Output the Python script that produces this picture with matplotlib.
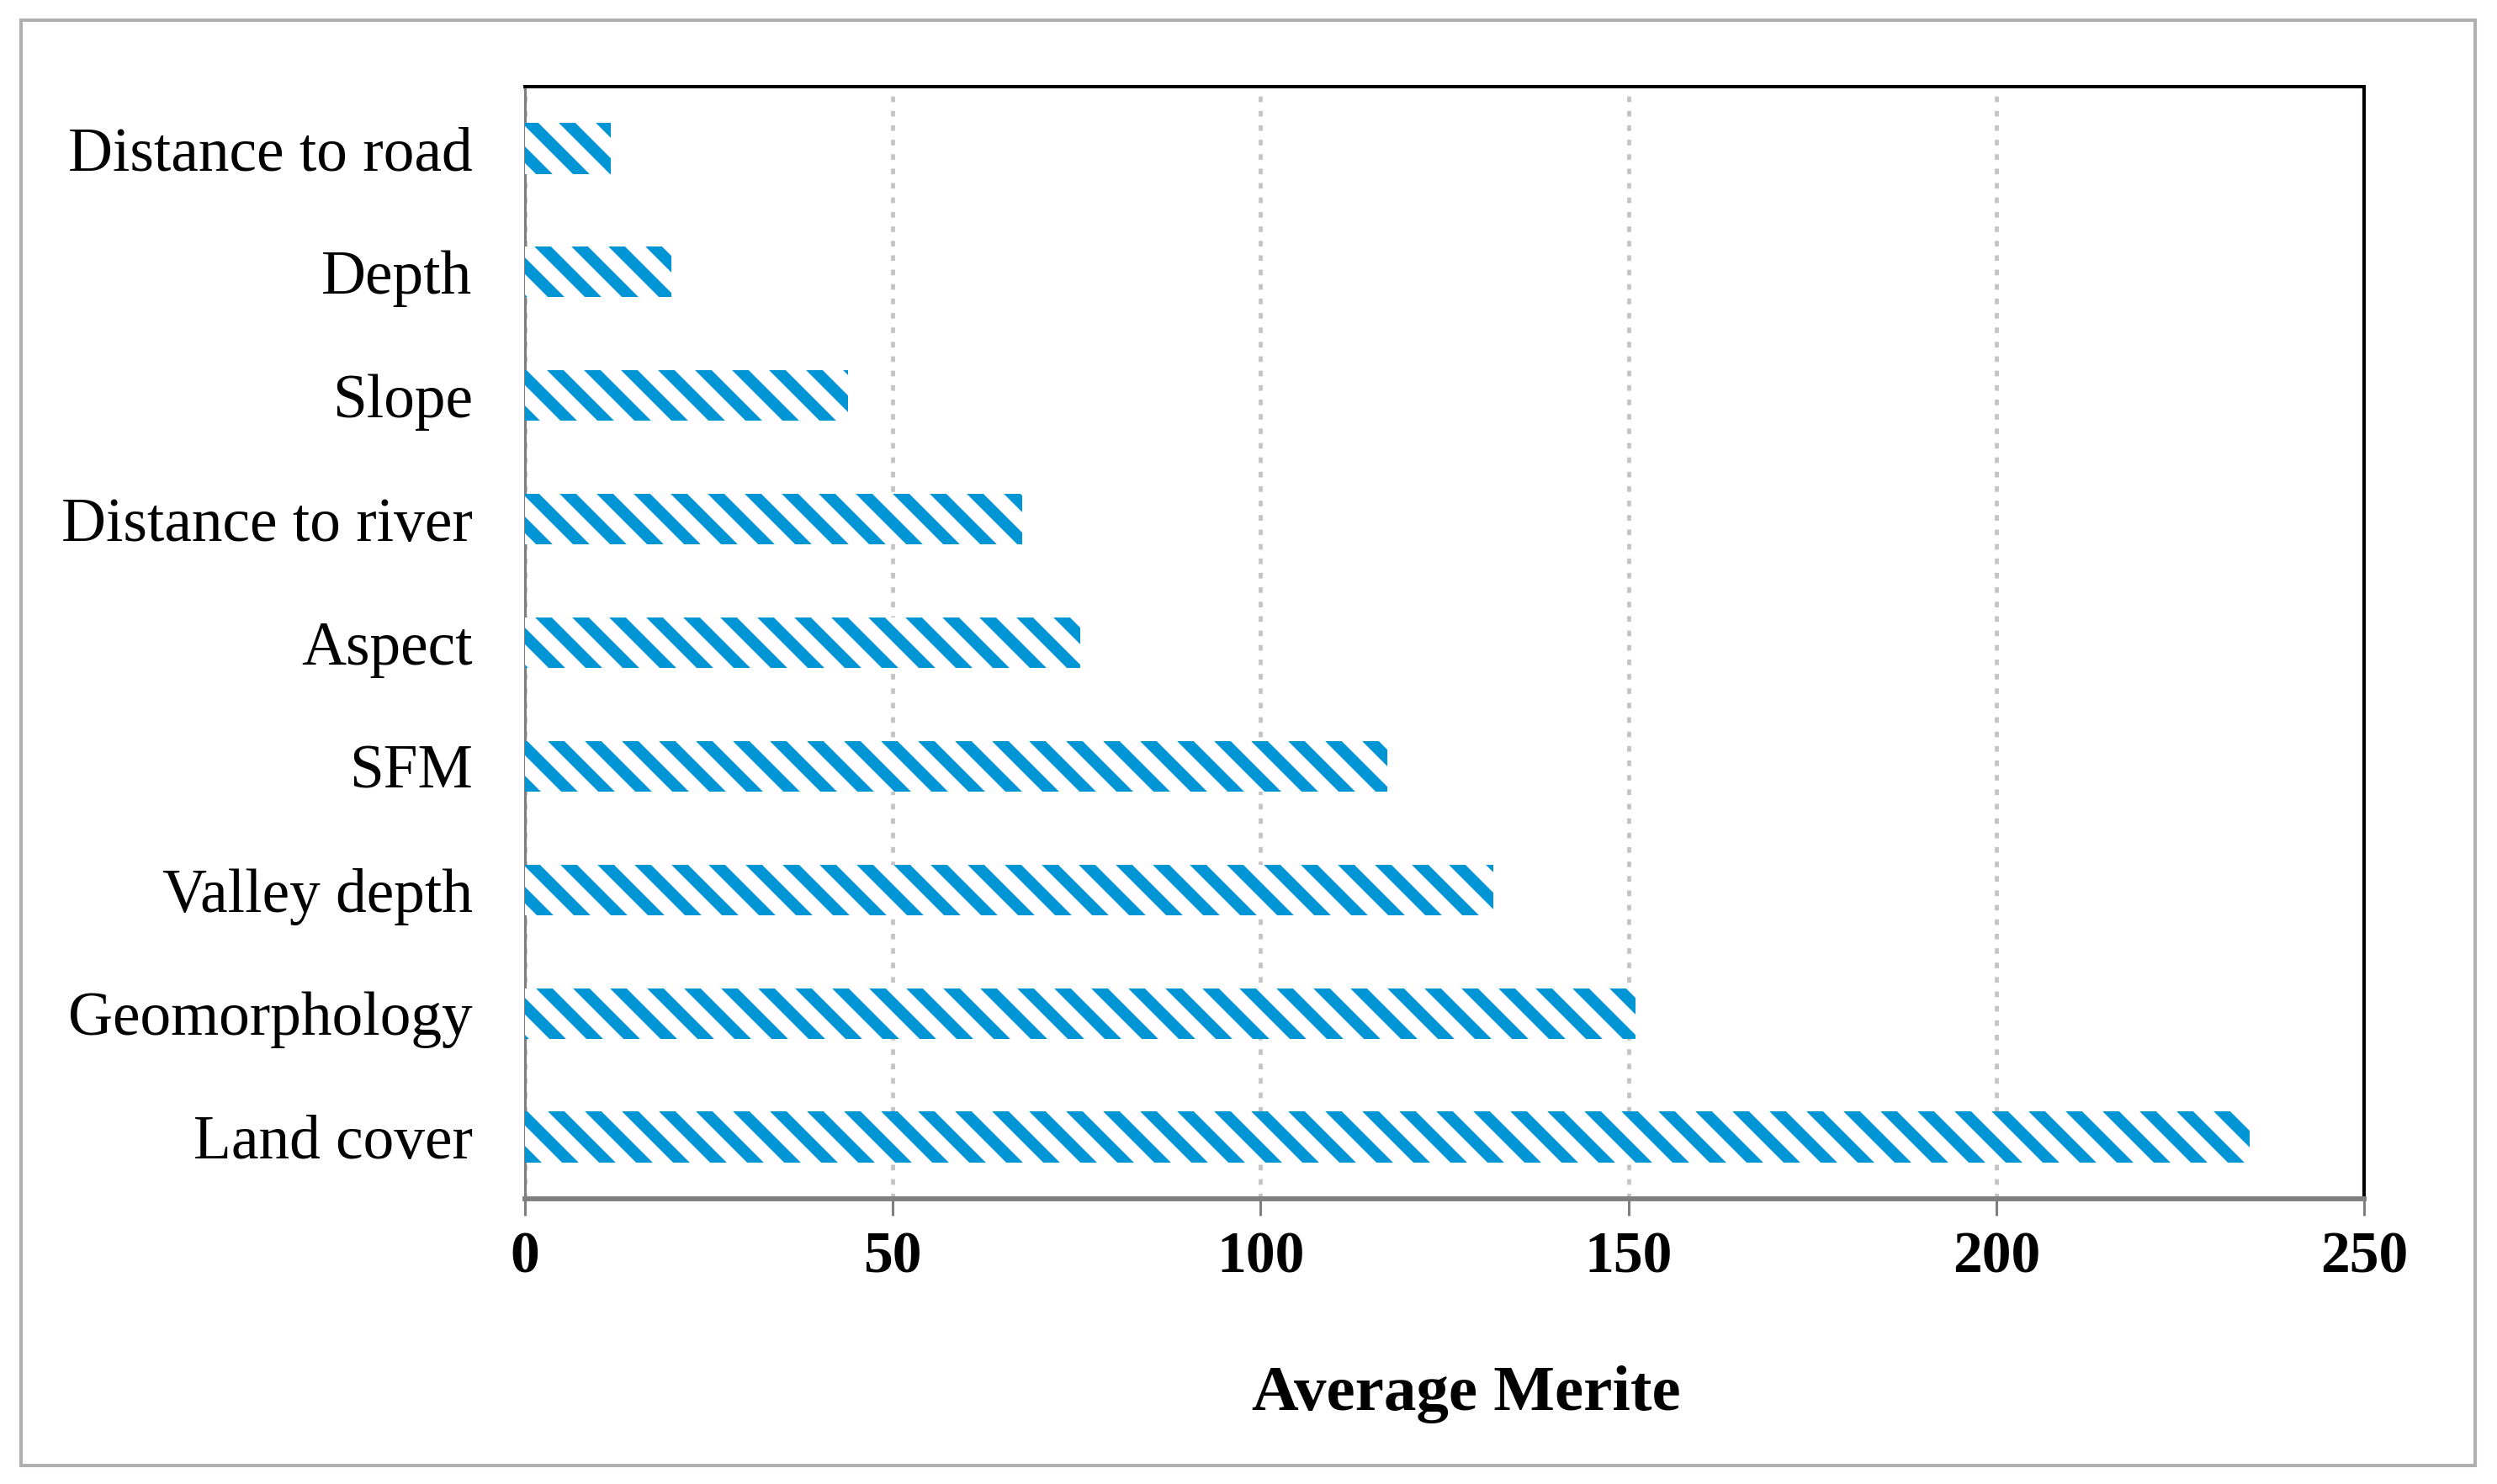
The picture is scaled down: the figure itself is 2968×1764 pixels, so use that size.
import matplotlib
matplotlib.use("Agg")
import matplotlib.pyplot as plt
from matplotlib.patches import Rectangle

# values (bottom to top)
factors = ["Land cover", "Geomorphology", "Valley depth", "SFM", "Aspect",
           "Distance to river", "Slope", "Depth", "Distance to road"]
merite = [234.4, 151.0, 131.6, 117.2, 75.5, 67.6, 43.9, 19.9, 11.7]
xticks = [0, 50, 100, 150, 200, 250]

DPI = 264
W, H = 2968, 1764
BLUE = "#0095d5"
GREY = "#7f7f7f"

plt.rcParams["font.family"] = ["Liberation Serif", "DejaVu Serif"]
plt.rcParams["hatch.linewidth"] = 3.8

fig = plt.figure(figsize=(W / DPI, H / DPI), dpi=DPI)
ax = fig.add_axes([624 / W, 1 - 1425 / H, (2810 - 624) / W, (1425 - 103) / H])

ax.barh(factors, merite, height=0.41, color="white", edgecolor=BLUE,
        linewidth=0, hatch="\\\\", zorder=3)

ax.set_xlim(0, 250)
ax.set_ylim(-0.5, 8.5)
ax.set_xticks(xticks)

ax.set_axisbelow(True)
ax.grid(axis="x", color="#c4c4c4", linewidth=1.3, linestyle=(0, (1.4, 2.2)))
ax.grid(axis="y", visible=False)

# spines: top/right black, left/bottom grey like the original
ax.spines["top"].set_color("black")
ax.spines["top"].set_linewidth(1.1)
ax.spines["right"].set_color("black")
ax.spines["right"].set_linewidth(1.1)
ax.spines["left"].set_color(GREY)
ax.spines["left"].set_linewidth(0.85)
ax.spines["bottom"].set_color(GREY)
ax.spines["bottom"].set_linewidth(1.6)

ax.tick_params(axis="y", length=0, pad=17, labelsize=20)
ax.tick_params(axis="x", length=5.5, width=0.85, color=GREY, direction="out",
               pad=5, labelsize=19)
for lab in ax.get_xticklabels():
    lab.set_fontweight("bold")

ax.set_xlabel("Average Merite", fontsize=21, fontweight="bold")
ax.xaxis.set_label_coords(0.512, -0.15)

# outer frame around the whole figure
fig.patches.append(Rectangle((25 / W, 1 - 1742 / H), (2942 - 25) / W, (1742 - 24) / H,
                             transform=fig.transFigure, fill=False,
                             edgecolor="#b0b0b0", linewidth=1.1))

fig.savefig("out.png", dpi=DPI)
